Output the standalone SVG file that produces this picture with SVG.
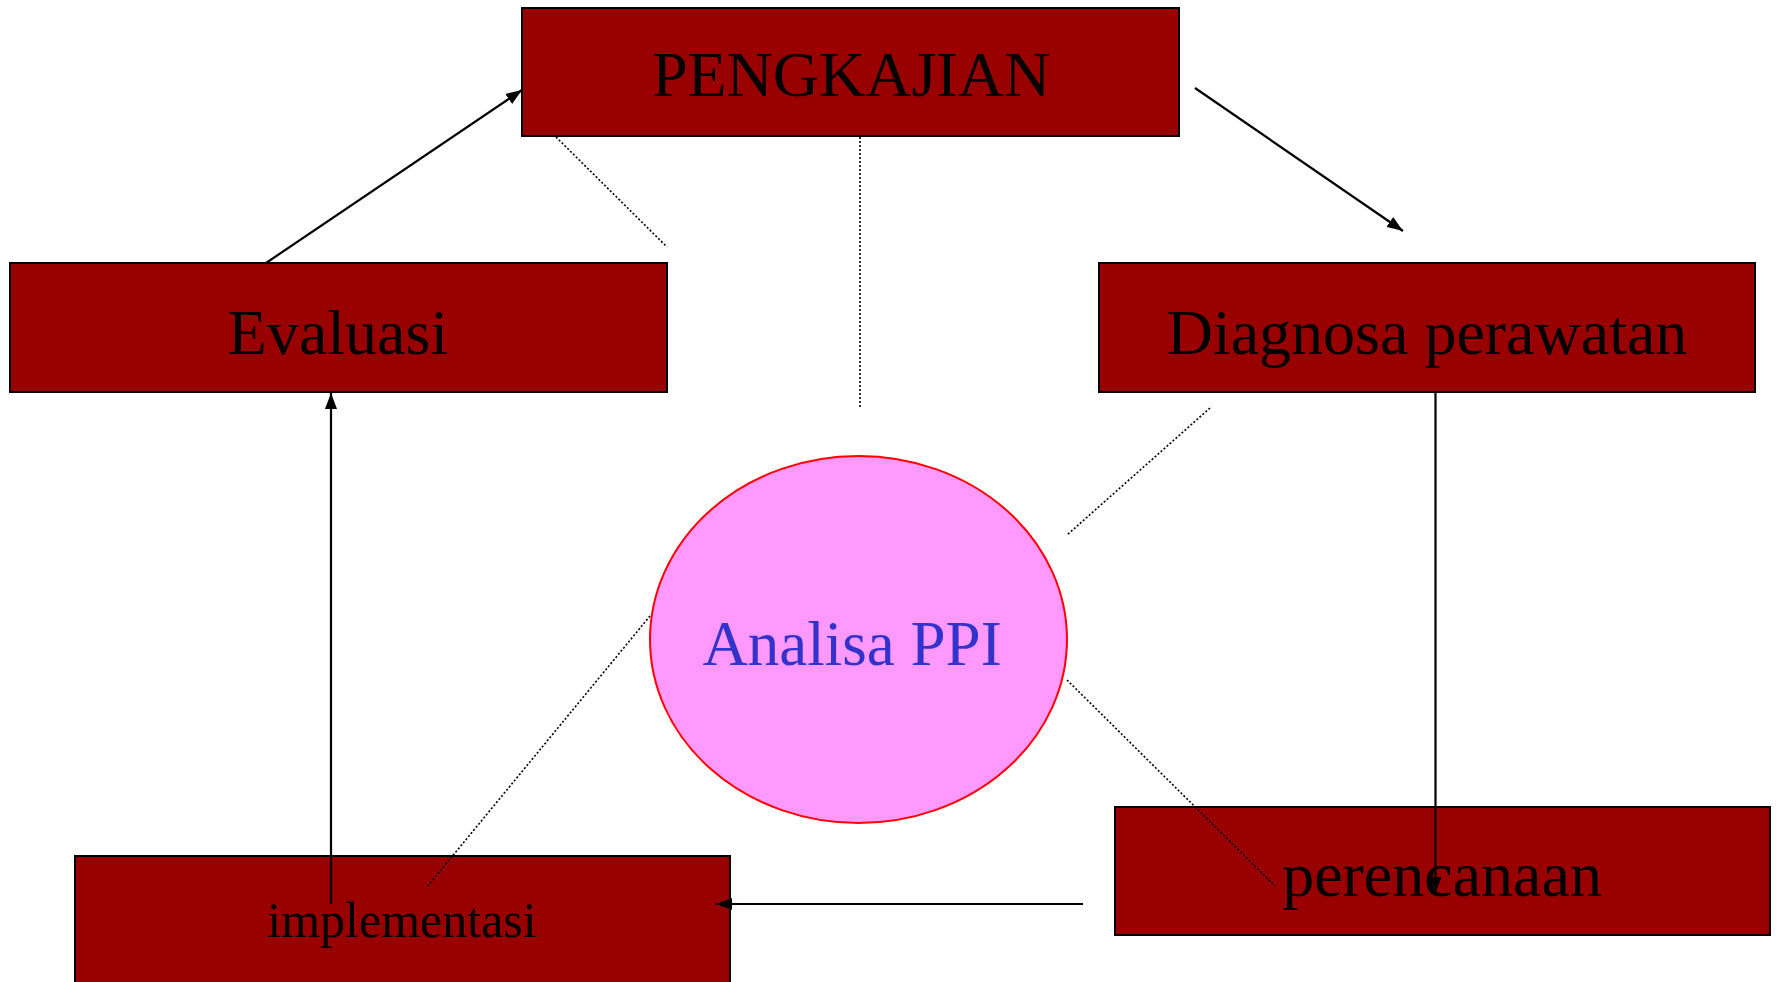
<svg xmlns="http://www.w3.org/2000/svg" width="1778" height="982" viewBox="0 0 1778 982">
<style>
.box{fill:#990000;stroke:#000;stroke-width:2}
.lbl{font-family:"Liberation Serif","Times New Roman",serif;fill:#000;text-anchor:middle}
.arr{stroke:#000;stroke-width:2.2;fill:none;marker-end:url(#ah)}
.dot{stroke:#000;stroke-width:1.6;fill:none;stroke-dasharray:2 2}
</style>
<defs>
<marker id="ah" viewBox="0 0 16 12" refX="16" refY="6" markerWidth="16" markerHeight="12" orient="auto" markerUnits="userSpaceOnUse">
<path d="M0,0 L16,6 L0,12 z" fill="#000"/>
</marker>
</defs>
<rect width="1778" height="982" fill="#fff"/>
<g id="pengkajian">
<rect class="box" x="522" y="8" width="657" height="128"/>
<text class="lbl" x="851" y="96" font-size="64">PENGKAJIAN</text>
</g>
<g id="evaluasi">
<rect class="box" x="10" y="263" width="657" height="129"/>
<text class="lbl" x="338" y="354" font-size="64">Evaluasi</text>
</g>
<g id="diagnosa">
<rect class="box" x="1099" y="263" width="656" height="129"/>
<text class="lbl" x="1427" y="354" font-size="64">Diagnosa perawatan</text>
</g>
<g id="perencanaan">
<rect class="box" x="1115" y="807" width="655" height="128"/>
<text class="lbl" x="1442" y="896" font-size="64">perencanaan</text>
</g>
<g id="implementasi">
<rect class="box" x="75" y="856" width="655" height="140"/>
<text class="lbl" x="402" y="937" font-size="50">implementasi</text>
</g>
<g id="analisa">
<ellipse cx="858.5" cy="639.5" rx="208.5" ry="183.5" fill="#FF99FF" stroke="#FF0000" stroke-width="2"/>
<text class="lbl" x="852" y="665" font-size="63" style="fill:#3333CC">Analisa PPI</text>
</g>
<g id="connectors">
<line class="arr" x1="266" y1="263" x2="522" y2="90"/>
<line class="arr" x1="1195" y1="88" x2="1403" y2="231"/>
<line class="arr" x1="1435.5" y1="392" x2="1435.5" y2="893"/>
<line class="arr" x1="1083" y1="904" x2="716" y2="904"/>
<line class="arr" x1="331" y1="904" x2="331" y2="393"/>
<line class="dot" x1="556" y1="137" x2="667" y2="247"/>
<line class="dot" x1="860" y1="137" x2="860" y2="408"/>
<line class="dot" x1="1210" y1="408" x2="1067" y2="535"/>
<line class="dot" x1="650" y1="616" x2="427" y2="887"/>
<line class="dot" x1="1067" y1="680" x2="1275" y2="886"/>
</g>
</svg>
